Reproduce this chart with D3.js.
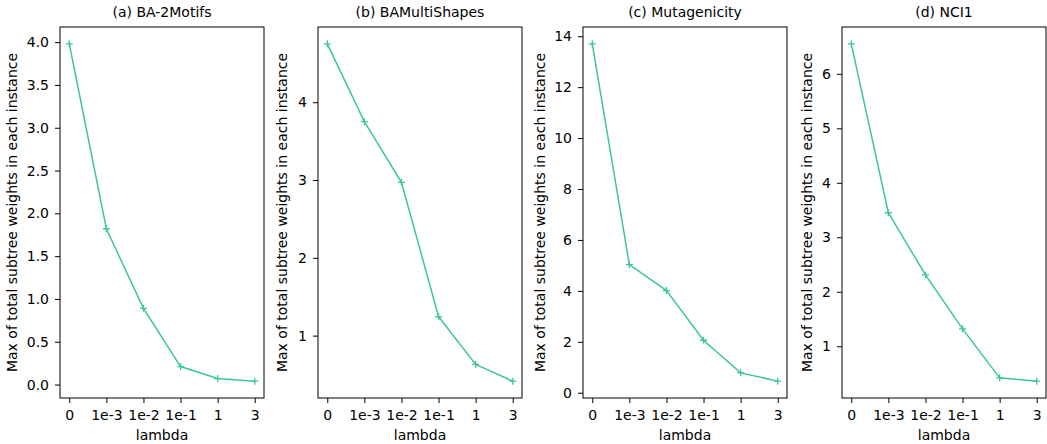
<!DOCTYPE html>
<html>
<head>
<meta charset="utf-8">
<script src="https://cdn.jsdelivr.net/npm/d3@7"></script>
<style>
  body { margin: 0; background: #fff; }
  svg text { font-family: "DejaVu Sans", sans-serif; fill: #000; }
</style>
</head>
<body>
<svg id="chart" width="1047" height="444"></svg>
<script>
var lambdas = ["0", "1e-3", "1e-2", "1e-1", "1", "3"];
var titles = ["(a) BA-2Motifs", "(b) BAMultiShapes", "(c) Mutagenicity", "(d) NCI1"];

var baMotifs = [3.98, 1.82, 0.89, 0.21, 0.07, 0.04];
var baMultiShapes = [4.75, 3.75, 2.97, 1.245, 0.63, 0.415];
var mutagenicity = [13.7, 5.03, 4.01, 2.06, 0.78, 0.455];
var nci1 = [6.55, 3.45, 2.31, 1.32, 0.42, 0.36];

var yTicks = [
  [0, 0.5, 1, 1.5, 2, 2.5, 3, 3.5, 4],
  [1, 2, 3, 4],
  [0, 2, 4, 6, 8, 10, 12, 14],
  [1, 2, 3, 4, 5, 6]
];
var yFormats = [d3.format(".1f"), d3.format("d"), d3.format("d"), d3.format("d")];

var series = [baMotifs, baMultiShapes, mutagenicity, nci1];
var lefts = [60, 318, 583, 842];
var labelOffsets = [-43, -31, -38, -30];
var axW = 204, axTop = 27, axBottom = 398;
var color = "#3dc59f";
var fs = "14px";

var svg = d3.select("#chart");

series.forEach(function(vals, i) {
  var g = svg.append("g").attr("transform", "translate(" + lefts[i] + ",0)");

  var x = d3.scalePoint()
      .domain(lambdas)
      .range([0, axW])
      .padding(0.25);

  var ext = d3.extent(vals);
  var pad = (ext[1] - ext[0]) * 0.05;
  var y = d3.scaleLinear()
      .domain([ext[0] - pad, ext[1] + pad])
      .range([axBottom, axTop]);

  g.append("g")
      .attr("transform", "translate(0," + axBottom + ")")
      .call(d3.axisBottom(x).tickSize(5).tickPadding(7))
      .call(function(a) { a.select(".domain").remove(); })
      .selectAll("text").style("font-size", fs);

  g.append("g")
      .call(d3.axisLeft(y).tickValues(yTicks[i]).tickFormat(yFormats[i]).tickSize(5).tickPadding(6))
      .call(function(a) { a.select(".domain").remove(); })
      .selectAll("text").style("font-size", fs);

  g.append("rect")
      .attr("x", 0).attr("y", axTop)
      .attr("width", axW).attr("height", axBottom - axTop)
      .attr("fill", "none").attr("stroke", "#000").attr("stroke-width", 1);

  var line = d3.line()
      .x(function(d, j) { return x(lambdas[j]); })
      .y(function(d) { return y(d); });

  g.append("path")
      .datum(vals)
      .attr("d", line)
      .attr("fill", "none")
      .attr("stroke", color)
      .attr("stroke-width", 1.5);

  g.selectAll(".pt")
      .data(vals)
      .enter().append("path")
      .attr("class", "pt")
      .attr("transform", function(d, j) { return "translate(" + x(lambdas[j]) + "," + y(d) + ")"; })
      .attr("d", "M-3.5,0H3.5M0,-3.5V3.5")
      .attr("stroke", color)
      .attr("stroke-width", 1.3);

  g.append("text")
      .attr("x", axW / 2).attr("y", 17)
      .attr("text-anchor", "middle")
      .style("font-size", fs)
      .text(titles[i]);

  g.append("text")
      .attr("x", axW / 2).attr("y", 440)
      .attr("text-anchor", "middle")
      .style("font-size", fs)
      .text("lambda");

  g.append("text")
      .attr("transform", "translate(" + labelOffsets[i] + "," + ((axTop + axBottom) / 2) + ") rotate(-90)")
      .attr("text-anchor", "middle")
      .style("font-size", fs)
      .text("Max of total subtree weights in each instance");
});
</script>
</body>
</html>
